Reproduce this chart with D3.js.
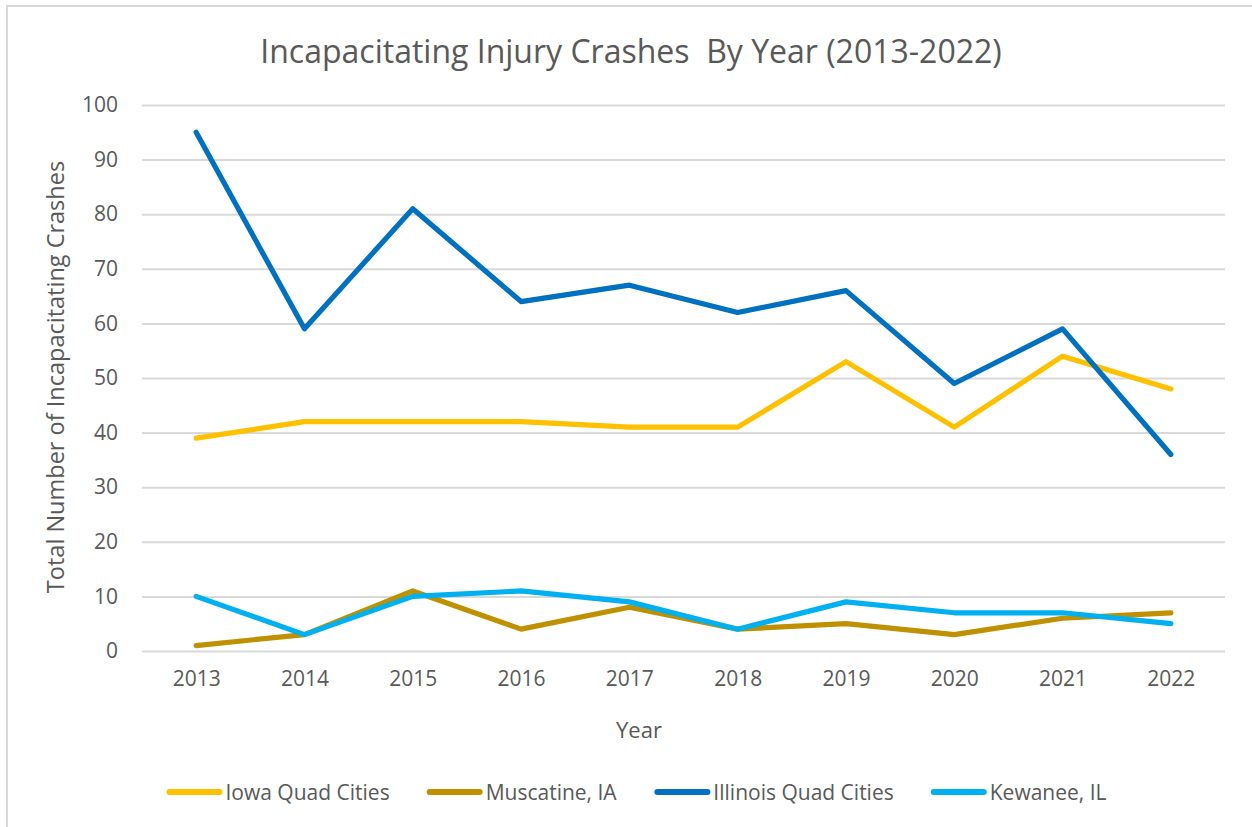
<!DOCTYPE html>
<html lang="en">
  <head>
    <meta charset="utf-8">
    <title>Incapacitating Injury Crashes By Year</title>
    <script src="https://cdn.jsdelivr.net/npm/d3@7"></script>
    <style>
      body { margin: 0; background: #fff; }
      text { font-family: "Open Sans", sans-serif; fill: #595959; }
    </style>
  </head>
  <body>
    <script>

      var years = ["2013","2014","2015","2016","2017","2018","2019","2020","2021","2022"];
      var iowaQC = [39, 42, 42, 42, 41, 41, 53, 41, 54, 48];
      var muscatine = [1, 3, 11, 4, 8, 4, 5, 3, 6, 7];
      var illinoisQC = [95, 59, 81, 64, 67, 62, 66, 49, 59, 36];
      var kewanee = [10, 3, 10, 11, 9, 4, 9, 7, 7, 5];
      var yTicks = [0, 10, 20, 30, 40, 50, 60, 70, 80, 90, 100];

      var series = [
        {name: "Iowa Quad Cities", values: iowaQC, color: "#FFC000"},
        {name: "Muscatine, IA", values: muscatine, color: "#BF9000"},
        {name: "Illinois Quad Cities", values: illinoisQC, color: "#0070C0"},
        {name: "Kewanee, IL", values: kewanee, color: "#00B0F0"}
      ];

      var W = 1252, H = 827;
      var plotL = 142, plotR = 1225, plotT = 105, plotB = 651;

      var svg = d3.select("body").append("svg")
                  .attr("width", W)
                  .attr("height", H);

      // frame edges (top and left only, as in the screenshot)
      svg.append("rect").attr("x", 6).attr("y", 5).attr("width", W - 6).attr("height", 2).attr("fill", "#d9d9d9");
      svg.append("rect").attr("x", 6).attr("y", 5).attr("width", 2).attr("height", H - 5).attr("fill", "#d9d9d9");

      var x = d3.scalePoint().domain(years).range([plotL, plotR]).padding(0.5);
      var y = d3.scaleLinear().domain([0, 100]).range([plotB, plotT]);

      // gridlines
      svg.append("g")
         .attr("transform", "translate(" + plotL + ",0)")
         .call(d3.axisLeft(y).tickValues(yTicks).tickSize(-(plotR - plotL)).tickFormat(""))
         .call(function(g) {
           g.select(".domain").remove();
           g.selectAll("line").attr("stroke", "#d9d9d9").attr("stroke-width", 2);
         });

      // y tick labels
      svg.append("g")
         .attr("transform", "translate(" + plotL + ",0)")
         .call(d3.axisLeft(y).tickValues(yTicks).tickSize(0).tickPadding(24))
         .call(function(g) {
           g.select(".domain").remove();
           g.selectAll("text").style("font-size", "21px").attr("fill", "#595959")
            .style("font-family", "'Open Sans', sans-serif");
         });

      // x tick labels
      svg.append("g")
         .attr("transform", "translate(0," + plotB + ")")
         .call(d3.axisBottom(x).tickSize(0).tickPadding(20))
         .call(function(g) {
           g.select(".domain").remove();
           g.selectAll("text").style("font-size", "21px").attr("fill", "#595959")
            .style("font-family", "'Open Sans', sans-serif");
         });

      var line = d3.line()
                   .x(function(d, i) { return x(years[i]); })
                   .y(function(d) { return y(d); });

      svg.selectAll("path.series")
         .data(series)
         .enter().append("path")
         .attr("class", "series")
         .attr("d", function(s) { return line(s.values); })
         .attr("fill", "none")
         .attr("stroke", function(s) { return s.color; })
         .attr("stroke-width", 5.2)
         .attr("stroke-linejoin", "round")
         .attr("stroke-linecap", "round");

      // titles
      svg.append("text")
         .attr("x", 631).attr("y", 63)
         .attr("text-anchor", "middle")
         .attr("xml:space", "preserve")
         .style("font-size", "32px")
         .text("Incapacitating Injury Crashes  By Year (2013-2022)");

      svg.append("text")
         .attr("transform", "translate(64," + ((plotT + plotB) / 2 - 1) + ") rotate(-90)")
         .attr("text-anchor", "middle")
         .style("font-size", "23.5px")
         .text("Total Number of Incapacitating Crashes");

      svg.append("text")
         .attr("x", 639).attr("y", 738)
         .attr("text-anchor", "middle")
         .style("font-size", "22px")
         .text("Year");

      // legend
      var legend = svg.append("g").attr("transform", "translate(0,792)");
      var items = legend.selectAll("g")
         .data(series)
         .enter().append("g");
      items.append("line")
         .attr("x1", 3).attr("x2", 53)
         .attr("stroke", function(s) { return s.color; })
         .attr("stroke-width", 6)
         .attr("stroke-linecap", "round");
      items.append("text")
         .attr("x", 59).attr("y", 8)
         .style("font-size", "21px")
         .text(function(s) { return s.name; });

      var widths = [];
      items.each(function() { widths.push(this.getBBox().width); });
      var gap = 40;
      var total = d3.sum(widths) + gap * (widths.length - 1);
      var pos = 635 - total / 2;
      items.attr("transform", function(s, i) {
        var t = "translate(" + pos + ",0)";
        pos += widths[i] + gap;
        return t;
      });

    </script>
  </body>
</html>
